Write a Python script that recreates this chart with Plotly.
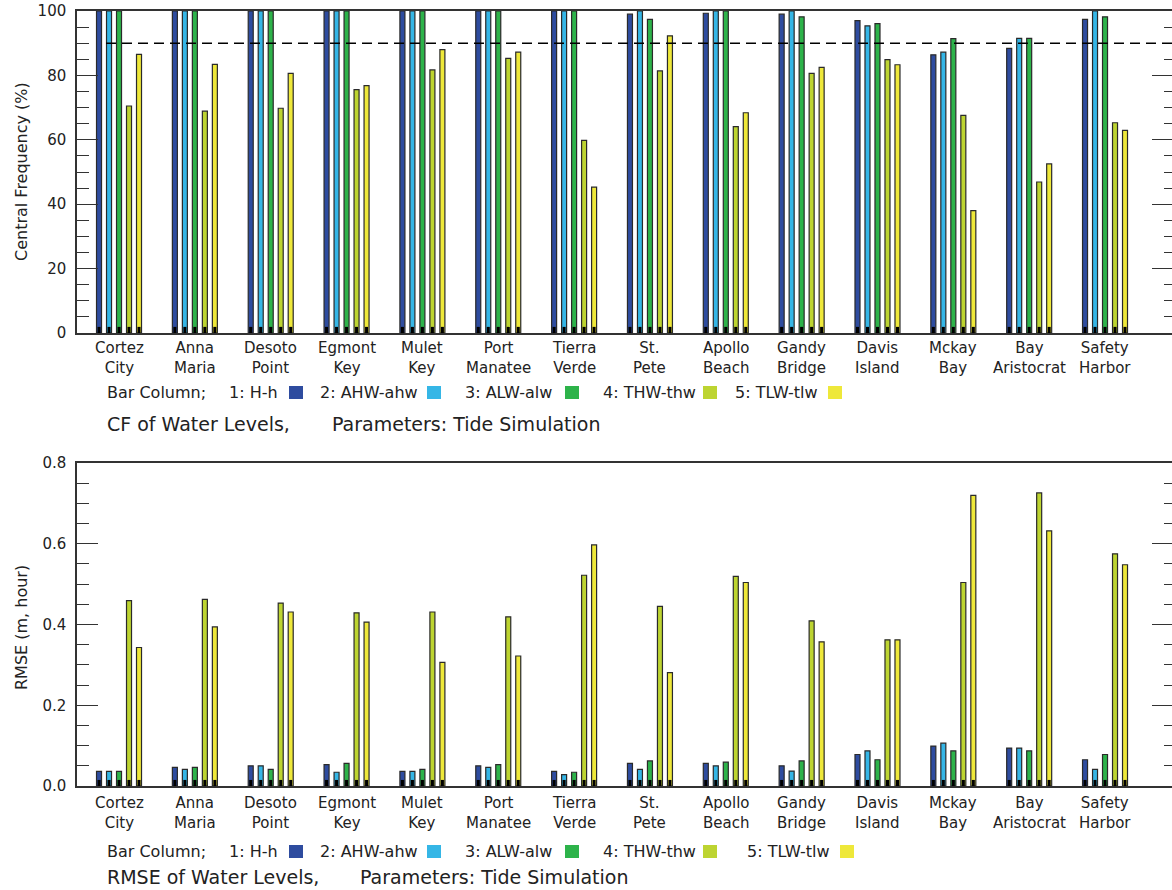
import plotly.graph_objects as go

# ---------------- data ----------------
label_line1 = ["Cortez", "Anna", "Desoto", "Egmont", "Mulet", "Port", "Tierra",
               "St.", "Apollo", "Gandy", "Davis", "Mckay", "Bay", "Safety"]
label_line2 = ["City", "Maria", "Point", "Key", "Key", "Manatee", "Verde",
               "Pete", "Beach", "Bridge", "Island", "Bay", "Aristocrat", "Harbor"]

series_names = ["1: H-h", "2: AHW-ahw", "3: ALW-alw", "4: THW-thw", "5: TLW-tlw"]
series_colors = ["#2E4C9F", "#35B6E6", "#2DB34A", "#BDD431", "#EEE83A"]

cf_hh  = [100, 100, 100, 100, 100, 100, 100, 99.0, 99.3, 99.0, 97.0, 86.4, 88.4, 97.4]
cf_ahw = [100, 100, 100, 100, 100, 100, 100, 100, 100, 100, 95.4, 87.2, 91.5, 100]
cf_alw = [100, 100, 100, 100, 100, 100, 100, 97.4, 100, 98.2, 96.1, 91.4, 91.5, 98.2]
cf_thw = [70.5, 68.9, 69.8, 75.6, 81.7, 85.3, 59.8, 81.4, 64.1, 80.6, 84.9, 67.6, 46.9, 65.3]
cf_tlw = [86.5, 83.4, 80.6, 76.8, 88.0, 87.2, 45.3, 92.3, 68.4, 82.5, 83.3, 38.0, 52.5, 62.9]

rmse_hh  = [0.036, 0.046, 0.050, 0.053, 0.036, 0.050, 0.036, 0.056, 0.056, 0.050, 0.078, 0.099, 0.094, 0.065]
rmse_ahw = [0.036, 0.041, 0.050, 0.034, 0.036, 0.046, 0.028, 0.041, 0.050, 0.037, 0.087, 0.106, 0.094, 0.041]
rmse_alw = [0.036, 0.046, 0.041, 0.056, 0.041, 0.053, 0.034, 0.062, 0.059, 0.062, 0.065, 0.087, 0.087, 0.078]
rmse_thw = [0.459, 0.462, 0.453, 0.429, 0.431, 0.419, 0.522, 0.445, 0.519, 0.409, 0.362, 0.504, 0.726, 0.575]
rmse_tlw = [0.343, 0.394, 0.431, 0.406, 0.306, 0.322, 0.597, 0.281, 0.504, 0.357, 0.362, 0.720, 0.632, 0.548]

cf_threshold = 90
cf_ticks = [0, 20, 40, 60, 80, 100]
rmse_ticks = [0.0, 0.2, 0.4, 0.6, 0.8]

# ---------------- layout helpers ----------------
W, H = 1172, 890
FONT = "DejaVu Sans"
TXT = "#222222"
AX = "#333333"


def px(x):
    return x / W


def py(y):
    return 1 - y / H


cf_series = [cf_hh, cf_ahw, cf_alw, cf_thw, cf_tlw]
rmse_series = [rmse_hh, rmse_ahw, rmse_alw, rmse_thw, rmse_tlw]
xs = list(range(len(label_line1)))

bar_step = 0.1318
bar_w = 0.066
base_w = 0.040

fig = go.Figure()


def add_bars(series, xa, ya, base_h):
    for k, vals in enumerate(series):
        off = (k - 2) * bar_step - bar_w / 2
        fig.add_trace(go.Bar(
            x=xs, y=vals, offset=off, width=bar_w,
            marker=dict(color=series_colors[k], line=dict(color="#2a2a2a", width=1.2)),
            xaxis=xa, yaxis=ya, showlegend=False, hoverinfo="skip"))
    for k, vals in enumerate(series):
        off = (k - 2) * bar_step - base_w / 2
        fig.add_trace(go.Bar(
            x=xs, y=[base_h] * len(vals), offset=off, width=base_w,
            marker=dict(color="#000000", line=dict(width=0)),
            xaxis=xa, yaxis=ya, showlegend=False, hoverinfo="skip"))


add_bars(cf_series, "x", "y", 1.9)
add_bars(rmse_series, "x2", "y2", 0.015)

# dummy traces so the right-side tick axes render
fig.add_trace(go.Scatter(x=[None], y=[None], xaxis="x", yaxis="y3", showlegend=False))
fig.add_trace(go.Scatter(x=[None], y=[None], xaxis="x2", yaxis="y4", showlegend=False))

xdom = [px(77), 1.0]
top_dom = [py(333), py(11)]
bot_dom = [py(786), py(463)]
xrange_ = [-0.554, 13.883]

xcommon = dict(range=xrange_, showline=True, mirror=True, linecolor=AX, linewidth=1.5,
               showticklabels=False, ticks="", showgrid=False, zeroline=False,
               domain=xdom, automargin=False)


def yleft(dom, rng, ticks, minor_dt, fmt):
    return dict(domain=dom, range=rng, tickvals=ticks, ticks="inside", ticklen=21,
                tickwidth=1.3, tickcolor=AX, showline=True, linecolor=AX, linewidth=1.5,
                showgrid=False, zeroline=False, tickformat=fmt,
                tickfont=dict(family=FONT, size=15, color=TXT), ticklabelstandoff=6,
                minor=dict(dtick=minor_dt, ticks="inside", ticklen=12, tickwidth=1.3,
                           tickcolor=AX, showgrid=False),
                automargin=False)


def yright(over, rng, ticks, minor_dt):
    return dict(overlaying=over, side="right", anchor=("x" if over == "y" else "x2"),
                range=rng, tickvals=ticks, ticks="inside", ticklen=20, tickwidth=1.3,
                tickcolor=AX, showticklabels=False, showline=False, showgrid=False,
                zeroline=False,
                minor=dict(dtick=minor_dt, ticks="inside", ticklen=8, tickwidth=1.3,
                           tickcolor=AX, showgrid=False))


annotations = []


def text(x, y, s, size, anchor="left", angle=0):
    annotations.append(dict(x=px(x), y=py(y), xref="paper", yref="paper", text=s,
                            showarrow=False, xanchor=anchor, yanchor="middle",
                            textangle=angle,
                            font=dict(family=FONT, size=size, color=TXT)))


shapes = []

# category labels (two lines) positioned on the category scale
for xa, yc in (("x", 358), ("x2", 813)):
    for i in xs:
        annotations.append(dict(x=i, y=py(yc), xref=xa, yref="paper",
                                text=label_line1[i] + "<br>" + label_line2[i],
                                showarrow=False, xanchor="center", yanchor="middle",
                                align="center",
                                font=dict(family=FONT, size=15, color=TXT)))

# axis titles
text(21, 172, "Central Frequency (%)", 16, anchor="center", angle=-90)
text(21, 628, "RMSE (m, hour)", 16, anchor="center", angle=-90)

# legend rows
legend_text_x = [227, 318, 463, 601, 733]
legend_sw_x = [289, 427, 565, 703, 828]
for row_y, shift_last in ((392, 0), (851, 12)):
    text(105, row_y, "Bar Column;", 16)
    for k in range(5):
        dx = shift_last if k == 4 else 0
        text(legend_text_x[k] + dx, row_y, series_names[k], 16)
        x0 = legend_sw_x[k] + dx
        shapes.append(dict(type="rect", xref="paper", yref="paper",
                           x0=px(x0), x1=px(x0 + 14), y0=py(row_y + 7), y1=py(row_y - 6),
                           fillcolor=series_colors[k], line=dict(width=0)))

# chart captions
text(105, 424, "CF of Water Levels,", 19)
text(330, 424, "Parameters: Tide Simulation", 19)
text(105, 877, "RMSE of Water Levels,", 19)
text(358, 877, "Parameters: Tide Simulation", 19)

# 90% reference line
shapes.append(dict(type="line", xref="paper", yref="y", x0=px(106), x1=1.0,
                   y0=cf_threshold, y1=cf_threshold, layer="above",
                   line=dict(color="#000000", width=1.5, dash="10px,6px")))

fig.update_layout(
    width=W, height=H,
    margin=dict(l=0, r=0, t=0, b=0),
    paper_bgcolor="white", plot_bgcolor="white",
    barmode="overlay", showlegend=False,
    xaxis=dict(anchor="y", **xcommon),
    xaxis2=dict(anchor="y2", **xcommon),
    yaxis=dict(anchor="x", **yleft(top_dom, [0, 100], cf_ticks, 5, "d")),
    yaxis2=dict(anchor="x2", **yleft(bot_dom, [0, 0.8], rmse_ticks, 0.05, ".1f")),
    yaxis3=yright("y", [0, 100], cf_ticks, 5),
    yaxis4=yright("y2", [0, 0.8], rmse_ticks, 0.05),
    annotations=annotations,
    shapes=shapes,
)

fig.write_html("out.html", config={"displayModeBar": False},
               post_script="document.body.style.margin='0';document.body.style.overflow='hidden';")
